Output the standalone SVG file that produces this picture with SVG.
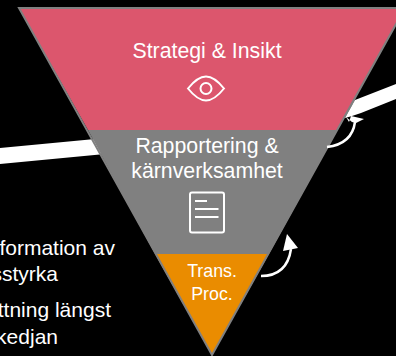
<svg xmlns="http://www.w3.org/2000/svg" width="396" height="356" viewBox="0 0 396 356">
<style>
.t{font-family:"Liberation Sans",Arial,sans-serif;fill:#fff;text-anchor:middle}
.l{font-family:"Liberation Sans",Arial,sans-serif;fill:#fff;font-size:21px;text-anchor:end}
.i{fill:none;stroke:#fff;stroke-width:2}
.c{fill:none;stroke:#fff;stroke-width:2.5}
.h{fill:#fff}
</style>
<rect width="396" height="356" fill="#000"/>
<g id="connectors-back">
<polygon class="h" points="0,148 95,139 105,154 0,164"/>
</g>
<g id="node-strategi">
<polygon points="19,8 405,8 337,130 88,130" fill="#dc566d"/>
<text class="t" x="207" y="58" font-size="21.3">Strategi &amp; Insikt</text>
<path class="i" d="M188,88.5C194,81 200,76.5 206,76.5C212,76.5 218,81 224,88.5C218,96 212,100.5 206,100.5C200,100.5 194,96 188,88.5Z"/>
<circle class="i" cx="206" cy="88.5" r="5.5"/>
</g>
<g id="node-rapportering">
<polygon points="88,130 337,130 269,254 155,254" fill="#808080"/>
<text class="t" x="207" y="153" font-size="21.3">Rapportering &amp;</text>
<text class="t" x="207" y="178" font-size="21.3">kärnverksamhet</text>
<rect class="i" x="190" y="192.500" width="34" height="40" rx="2"/>
<path class="i" d="M195,201H207M195,209H218.500M195,217H218.500"/>
</g>
<g id="node-trans">
<polygon points="155,254 269,254 212,355" fill="#ea8c00"/>
<text class="t" x="212" y="277" font-size="17.800">Trans.</text>
<text class="t" x="212" y="300" font-size="17.800">Proc.</text>
</g>
<path d="M19,8H405L212,355Z" fill="none" stroke="#808080" stroke-width="2"/>
<g id="connectors">
<polygon class="h" points="396,84 355,100 345,118 352,116 361,113 396,99"/>
<path class="c" d="M327,147 Q352,144 355,122"/>
<polygon class="h" points="346,117 349,122 351,116 364,119 356,123 352,122"/>
<path class="c" d="M261,276 Q287,276 291,249"/>
<polygon class="h" points="287,234 298,248 283,251"/>
</g>
<g id="labels">
<text class="l" x="115" y="255">formation av</text>
<text class="l" x="58" y="281">sstyrka</text>
<text class="l" x="111" y="317">ttning längst</text>
<text class="l" x="58" y="344">kedjan</text>
</g>
</svg>
